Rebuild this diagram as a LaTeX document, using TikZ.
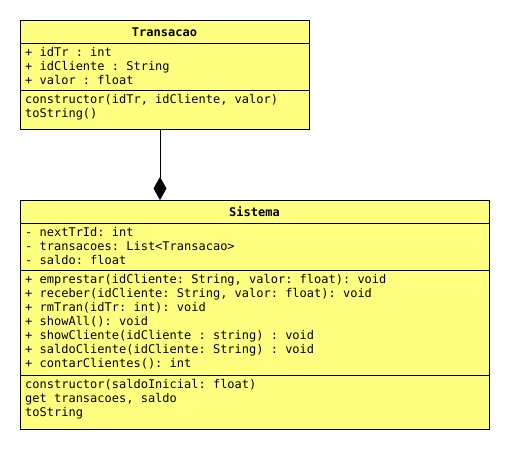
\documentclass[tikz,border=0pt]{standalone}
\usepackage{fontspec}
\setmonofont{DejaVu Sans Mono}
\usetikzlibrary{arrows.meta}
\definecolor{umlfill}{HTML}{FFFF80}
\begin{document}
\begin{tikzpicture}[x=1pt,y=-1pt,
  classbox/.style={draw=black, line width=1pt, fill=umlfill, anchor=north west, inner sep=0pt},
  title/.style={font=\ttfamily\bfseries\fontsize{12}{14}\selectfont, anchor=base, inner sep=0pt},
  % multi-line member lists are placed by the baseline of their last line
  members/.style={font=\ttfamily\fontsize{12}{14}\selectfont, align=left, anchor=base west, inner sep=0pt},
  divider/.style={line width=1pt}]
\useasboundingbox (0,0) rectangle (510,450);

% class Transacao
\node[classbox, minimum width=289pt, minimum height=109pt] (trans) at (20,20) {};
\draw[divider] (20,43) -- (309,43);
\draw[divider] (20,90) -- (309,90);
\node[title] (transT) at (164.5,36) {Transacao};
\node[members] (transA) at (25,84) {+ idTr : int\\+ idCliente : String\\+ valor : float};
\node[members] (transM) at (25,117) {constructor(idTr, idCliente, valor)\\toString()};

% class Sistema
\node[classbox, minimum width=469pt, minimum height=229pt] (sist) at (20,200) {};
\draw[divider] (20,223) -- (489,223);
\draw[divider] (20,270) -- (489,270);
\draw[divider] (20,375) -- (489,375);
\node[title] (sistT) at (254.5,216) {Sistema};
\node[members] (sistA) at (25,264) {- nextTrId: int\\- transacoes: List<Transacao>\\- saldo: float};
\node[members] (sistM) at (25,367) {+ emprestar(idCliente: String, valor: float): void\\
+ receber(idCliente: String, valor: float): void\\
+ rmTran(idTr: int): void\\
+ showAll(): void\\
+ showCliente(idCliente : string) : void\\
+ saldoCliente(idCliente: String) : void\\
+ contarClientes(): int};
\node[members] (sistC) at (25,416) {constructor(saldoInicial: float)\\get transacoes, saldo\\toString};

% composition: Sistema owns Transacao
\draw[line width=1pt, -{Diamond[length=23pt,width=13pt]}] (trans.south -| 160,0) -- (sist.north -| 160,0);
\end{tikzpicture}
\end{document}
